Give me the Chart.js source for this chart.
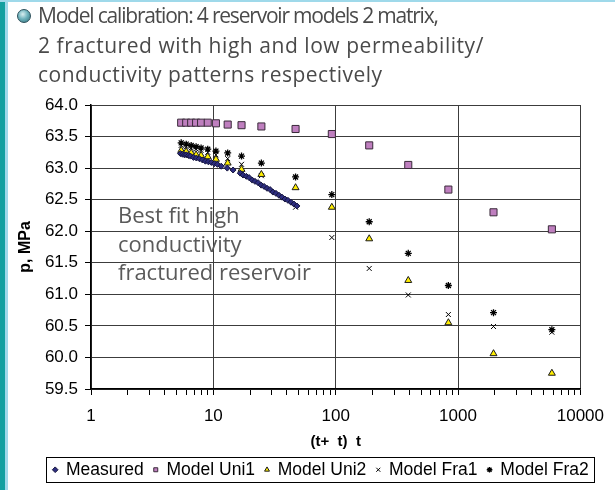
<!DOCTYPE html>
<html lang="en">
<head>
    <meta charset="UTF-8">
    <title>Model calibration</title>
    <script src="https://cdn.jsdelivr.net/npm/chart.js"></script>
    <style>
        html, body {
            margin: 0;
            padding: 0;
            background: #ffffff;
        }
        .page {
            position: relative;
            width: 615px;
            height: 490px;
            overflow: hidden;
            background: #ffffff;
        }
        .stripe-dark {
            position: absolute;
            left: 0; top: 0;
            width: 5px; height: 490px;
            background: #13a0a0;
        }
        .stripe-light {
            position: absolute;
            left: 5px; top: 0;
            width: 3px; height: 490px;
            background: #9fd9ea;
        }
        .stripe-top {
            position: absolute;
            left: 0; top: 0;
            width: 615px; height: 2px;
            background: #9fd9ea;
        }
        .bullet {
            position: absolute;
            left: 17px; top: 9px;
            width: 12px; height: 12px;
            border-radius: 50%;
            border: 1px solid #2b4f5a;
            background: radial-gradient(circle at 40% 35%, #d9eef0 0%, #6fb3bd 45%, #2f6f7a 100%);
        }
        .heading {
            position: absolute;
            left: 38px; top: 1px;
            font-family: "Open Sans", "Lato", sans-serif;
            font-size: 21px;
            line-height: 29.5px;
            color: #4a4a4a;
            white-space: nowrap;
        }
        .heading .l1 { letter-spacing: -1.2px; }
        .heading .l2 { letter-spacing: 0.55px; }
        .heading .l3 { letter-spacing: 0.5px; }
        .note {
            position: absolute;
            left: 118px; top: 200px;
            font-family: "Open Sans", "Lato", sans-serif;
            font-size: 22px;
            line-height: 28.5px;
            color: #5a5a5a;
            white-space: nowrap;
        }
        #chartBox {
            position: absolute;
            left: 0; top: 0;
            width: 615px; height: 490px;
        }
    </style>
</head>
<body>
<div class="page">
    <div class="stripe-dark"></div>
    <div class="stripe-light"></div>
    <div class="stripe-top"></div>
    <div id="chartBox"><canvas id="calibChart" width="615" height="490"></canvas></div>
    <div class="bullet"></div>
    <div class="heading"><span class="l1">Model calibration: 4 reservoir models 2 matrix,</span><br><span class="l2">2 fractured with high and low permeability/</span><br><span class="l3">conductivity patterns respectively</span></div>
    <div class="note">Best fit high<br>conductivity<br>fractured reservoir</div>
</div>

<script>
    // measured build-up data
    const measuredTime = [5.39, 5.60, 5.81, 6.03, 6.26, 6.50, 6.88, 7.27, 7.69, 8.14, 8.61, 9.11, 9.63, 10.2, 10.8,
        11.6, 13.0, 14.5, 16.6, 17.5, 18.6, 19.6, 20.8, 21.9, 23.2, 24.6, 26.0, 27.5, 29.1, 30.7, 32.5,
        34.4, 36.4, 38.5, 40.7, 43.1, 45.6, 48.2];
    const measuredP = [63.23, 63.22, 63.21, 63.21, 63.20, 63.19, 63.17, 63.16, 63.15, 63.13, 63.11, 63.10, 63.09, 63.07, 63.06,
        63.03, 63.00, 62.97, 62.92, 62.89, 62.87, 62.85, 62.81, 62.79, 62.77, 62.73, 62.71, 62.68, 62.66, 62.62, 62.60,
        62.57, 62.54, 62.51, 62.49, 62.46, 62.43, 62.40];

    // model runs, all on the same time steps
    const modelTime = [5.46, 6.0, 6.59, 7.23, 7.94, 9.0, 10.5, 13.1, 17.0, 24.7, 47, 93, 188, 392, 834, 1950, 5850];
    const uni1P = [63.72, 63.72, 63.72, 63.72, 63.72, 63.72, 63.71, 63.69, 63.68, 63.66, 63.62, 63.54, 63.36, 63.05, 62.66, 62.30, 62.03];
    const uni2P = [63.28, 63.26, 63.24, 63.21, 63.20, 63.18, 63.14, 63.08, 62.98, 62.90, 62.69, 62.38, 61.88, 61.22, 60.55, 60.06, 59.75];
    const fra1P = [63.36, 63.34, 63.32, 63.30, 63.28, 63.25, 63.21, 63.15, 63.06, 62.88, 62.38, 61.90, 61.41, 60.99, 60.68, 60.49, 60.40];
    const fra2P = [63.40, 63.38, 63.36, 63.34, 63.32, 63.30, 63.27, 63.24, 63.19, 63.08, 62.86, 62.58, 62.15, 61.65, 61.14, 60.71, 60.44];

    const xDecades = [1, 10, 100, 1000, 10000];
    const yMin = 59.5, yMax = 64.0, yStep = 0.5;

    function pairs(xs, ys) {
        return xs.map((x, i) => ({ x: x, y: ys[i] }));
    }

    // tick marks 1..9 inside every decade
    const xTickValues = [];
    xDecades.forEach((d, i) => {
        if (i === xDecades.length - 1) { xTickValues.push(d); return; }
        for (let k = 1; k < 10; k++) xTickValues.push(k * d);
    });

    const isDecade = v => xDecades.includes(v);

    const LEGEND_CENTER = 321;

    // move the legend a bit right and frame it like the spreadsheet one
    const legendFrame = {
        id: 'legendFrame',
        beforeDraw(chart) {
            const lg = chart.legend;
            const half = (lg.right - lg.left) / 2;
            lg.left = LEGEND_CENTER - half;
            lg.right = LEGEND_CENTER + half;
        },
        afterDraw(chart) {
            const lg = chart.legend;
            const pad = lg.options.labels.padding;
            const lw = lg.lineWidths[0];
            const start = (lg.left + pad + lg.right - lw) / 2;
            const itemH = lg.options.labels.font.size;
            const ctx = chart.ctx;
            ctx.save();
            ctx.strokeStyle = '#000';
            ctx.lineWidth = 1;
            ctx.strokeRect(Math.round(start) - 6.5, Math.round(lg.top + pad) - 3.5,
                Math.round(lw - pad) + 12, Math.round(itemH) + 7);
            ctx.restore();
        }
    };

    Chart.defaults.font.family = '"Liberation Sans", Arial, sans-serif';
    Chart.defaults.color = '#000';

    new Chart(document.getElementById('calibChart'), {
        type: 'scatter',
        data: {
            datasets: [
                {
                    label: 'Measured',
                    data: pairs(measuredTime, measuredP),
                    pointStyle: 'rectRot',
                    pointRadius: 3,
                    backgroundColor: '#2d2d80',
                    borderColor: '#14143c',
                    borderWidth: 1
                },
                {
                    label: 'Model Uni1',
                    data: pairs(modelTime, uni1P),
                    pointStyle: 'rect',
                    pointRadius: 5,
                    backgroundColor: '#bf7fbf',
                    borderColor: '#3a2a3a',
                    borderWidth: 1
                },
                {
                    label: 'Model Uni2',
                    data: pairs(modelTime, uni2P),
                    pointStyle: 'triangle',
                    pointRadius: 4,
                    backgroundColor: '#ffee00',
                    borderColor: '#1a1a1a',
                    borderWidth: 1
                },
                {
                    label: 'Model Fra1',
                    data: pairs(modelTime, fra1P),
                    pointStyle: 'crossRot',
                    pointRadius: 3.5,
                    backgroundColor: '#000',
                    borderColor: '#000',
                    borderWidth: 1
                },
                {
                    label: 'Model Fra2',
                    data: pairs(modelTime, fra2P),
                    pointStyle: 'star',
                    pointRadius: 3.5,
                    backgroundColor: '#000',
                    borderColor: '#000',
                    borderWidth: 1.3
                }
            ]
        },
        options: {
            responsive: false,
            animation: false,
            layout: {
                padding: { top: 105, left: 10, right: 32, bottom: 1.5 }
            },
            scales: {
                x: {
                    type: 'logarithmic',
                    min: 1,
                    max: 10000,
                    afterBuildTicks: scale => {
                        scale.ticks = xTickValues.map(v => ({ value: v }));
                    },
                    afterFit: scale => {
                        scale.height = 62;
                    },
                    ticks: {
                        autoSkip: false,
                        maxRotation: 0,
                        padding: 11,
                        font: { size: 17 },
                        callback: v => isDecade(v) ? String(v) : ''
                    },
                    grid: {
                        color: ctx => (ctx.tick && isDecade(ctx.tick.value)) ? '#3c3c3c' : 'rgba(0,0,0,0)',
                        tickColor: '#000',
                        tickLength: 6
                    },
                    border: { color: '#000', width: 1.5 },
                    title: {
                        display: true,
                        text: '(t+  t)  t',
                        font: { size: 15, weight: 'bold' },
                        padding: { top: 0, bottom: 0 }
                    }
                },
                y: {
                    min: yMin,
                    max: yMax,
                    afterFit: scale => {
                        scale.width = 81;
                    },
                    ticks: {
                        stepSize: yStep,
                        padding: 7,
                        font: { size: 17 },
                        callback: v => Number(v).toFixed(1)
                    },
                    grid: {
                        color: '#3c3c3c',
                        tickColor: '#000',
                        tickLength: 6
                    },
                    border: { color: '#000', width: 1.5 },
                    title: {
                        display: true,
                        text: 'p, MPa',
                        font: { size: 16, weight: 'bold' },
                        padding: 6
                    }
                }
            },
            plugins: {
                legend: {
                    position: 'bottom',
                    labels: {
                        usePointStyle: true,
                        boxWidth: 4,
                        boxHeight: 4,
                        padding: 10,
                        font: { size: 17.5 },
                        color: '#000'
                    }
                },
                tooltip: { enabled: false }
            }
        },
        plugins: [legendFrame]
    });
</script>
</body>
</html>
